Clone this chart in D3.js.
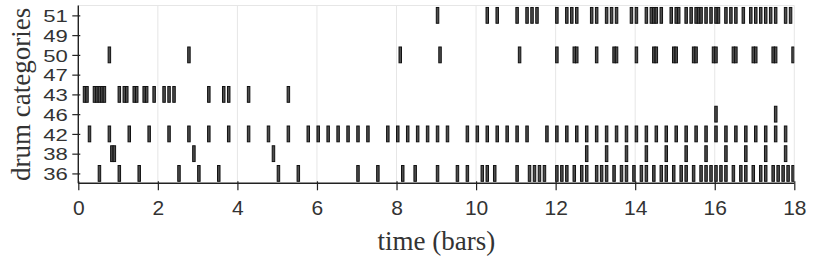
<!DOCTYPE html>
<html>
<head>
<meta charset="utf-8">
<script src="https://cdn.jsdelivr.net/npm/d3@7"></script>
<style>
  html, body { margin: 0; padding: 0; background: #fff; }
  svg { display: block; }
</style>
</head>
<body>
<svg id="chart" width="830" height="261"></svg>
<script>
// ---- data (onsets in bars) ----
const categories = ["36", "38", "42", "46", "43", "47", "50", "49", "51"];
const xTicks = [0, 2, 4, 6, 8, 10, 12, 14, 16, 18];
const noteLength = 0.0625;

const onsets36 = [0.5, 1.0, 1.5, 2.5, 3.0, 3.5, 5.0, 5.5, 7.0, 7.5, 8.125, 8.4375, 9.0, 9.5, 9.75,
  10.125, 10.25, 10.4375, 11.0, 11.3125, 11.4375, 11.5625, 11.6875, 12.0, 12.125, 12.25, 12.4375,
  12.625, 12.75, 13.0, 13.125, 13.25, 13.4375, 13.625, 13.75, 13.9375, 14.125, 14.25, 14.4375,
  14.625, 14.75, 14.9375, 15.125, 15.25, 15.4375, 15.625, 15.75, 15.875, 16.0, 16.125, 16.25,
  16.4375, 16.625, 16.75, 16.9375, 17.125, 17.25, 17.4375, 17.5625, 17.6875, 17.8125, 17.9375];
const onsets38 = [0.8125, 0.875, 2.875, 4.875, 12.75, 13.25, 13.75, 14.25, 14.75, 15.25, 15.75,
  16.25, 16.75, 17.25, 17.75];
const onsets42 = [0.25, 0.75, 1.25, 1.75, 2.25, 2.75, 3.25, 3.75, 4.25, 4.75, 5.25, 5.75, 6.0,
  6.25, 6.5, 6.75, 7.0, 7.25, 7.75, 8.0, 8.25, 8.5, 8.75, 9.0, 9.25, 9.75, 10.0, 10.25, 10.5,
  10.75, 11.0, 11.25, 11.75, 12.0, 12.25, 12.5, 12.75, 13.0, 13.25, 13.5, 13.75, 14.0, 14.25,
  14.5, 14.75, 15.0, 15.25, 15.5, 15.75, 16.0, 16.25, 16.5, 16.75, 17.0, 17.25, 17.5, 17.75];
const onsets46 = [16.0, 17.5];
const onsets43 = [0.125, 0.1875, 0.375, 0.4375, 0.5, 0.5625, 0.625, 1.0, 1.125, 1.1875, 1.375,
  1.4375, 1.625, 1.6875, 1.875, 2.125, 2.25, 2.375, 3.25, 3.625, 3.75, 4.25, 5.25];
const onsets47 = [];
const onsets50 = [0.75, 2.75, 8.0625, 9.0625, 11.0625, 12.0, 12.4375, 12.5, 13.0, 13.4375, 13.5,
  14.0, 14.4375, 14.5, 14.9375, 15.0, 15.4375, 15.5, 15.9375, 16.0, 16.4375, 16.5, 16.9375, 17.0,
  17.4375, 17.5, 17.9375];
const onsets49 = [];
const onsets51 = [9.0, 10.25, 10.5, 11.0, 11.25, 11.375, 11.5, 12.0, 12.25, 12.375, 12.5, 12.875,
  13.0, 13.25, 13.375, 13.5, 13.875, 14.0, 14.25, 14.375, 14.4375, 14.5, 14.625, 14.875, 15.0,
  15.0625, 15.25, 15.375, 15.5, 15.5625, 15.625, 15.75, 15.875, 16.0, 16.0625, 16.25, 16.375,
  16.5, 16.6875, 16.875, 17.0, 17.125, 17.25, 17.375, 17.5, 17.75, 17.875];

const rows = [
  ["36", onsets36], ["38", onsets38], ["42", onsets42], ["46", onsets46], ["43", onsets43],
  ["47", onsets47], ["50", onsets50], ["49", onsets49], ["51", onsets51]
];
const notes = [];
rows.forEach(([cat, arr]) => arr.forEach(t => notes.push({ cat, t })));

// ---- layout ----
const svg = d3.select("#chart");
const pLeft = 78.3, pRight = 794.3, pTop = 5.5, pBottom = 183.3;

const x = d3.scaleLinear().domain([0, 18]).range([pLeft, pRight]);
const y = d3.scalePoint().domain(categories).range([pBottom, pTop]).padding(0.5);
const noteH = y.step() * 0.8;

// grid + frame
svg.append("g").selectAll("line").data(xTicks).join("line")
  .attr("x1", d => x(d)).attr("x2", d => x(d))
  .attr("y1", pTop).attr("y2", pBottom)
  .attr("stroke", "#e6e6e6").attr("stroke-width", 1);
svg.append("line").attr("x1", pLeft).attr("x2", pRight).attr("y1", pTop).attr("y2", pTop)
  .attr("stroke", "#e6e6e6").attr("stroke-width", 1);

// clip
svg.append("clipPath").attr("id", "plotclip").append("rect")
  .attr("x", pLeft).attr("y", pTop).attr("width", pRight - pLeft).attr("height", pBottom - pTop);

// notes
svg.append("g").attr("clip-path", "url(#plotclip)")
  .selectAll("rect").data(notes).join("rect")
  .attr("x", d => x(d.t))
  .attr("width", d => x(d.t + noteLength) - x(d.t))
  .attr("y", d => y(d.cat) - noteH / 2)
  .attr("height", noteH)
  .attr("fill", "#4d4d4d")
  .attr("stroke", "#111")
  .attr("stroke-width", 1);

// axes
const xAxis = svg.append("g").attr("transform", `translate(0,${pBottom})`)
  .call(d3.axisBottom(x).tickValues(xTicks).tickSize(7).tickFormat(d3.format("d")));
const yAxis = svg.append("g").attr("transform", `translate(${pLeft},0)`)
  .call(d3.axisLeft(y).tickSize(6));

[xAxis, yAxis].forEach(g => {
  g.select(".domain").attr("stroke", "#222").attr("stroke-width", 1.4);
  g.selectAll(".tick line").attr("stroke", "#222").attr("stroke-width", 1.2);
  g.selectAll(".tick text")
    .attr("font-family", "'Liberation Sans', Arial, sans-serif")
    .attr("fill", "#333");
});
xAxis.select(".domain").attr("d", `M${pLeft},0H${pRight}`);
yAxis.select(".domain").attr("d", `M0,${pBottom}V${pTop}`);
xAxis.selectAll(".tick line").attr("y1", -2);
yAxis.selectAll(".tick line").attr("x1", 2);
xAxis.selectAll(".tick text").attr("font-size", 21).attr("y", 31.5).attr("dy", 0);
yAxis.selectAll(".tick text").attr("font-size", 17).attr("x", 0).attr("dy", "0.36em")
  .attr("transform", "translate(-10.5,0) scale(1.3,1)");

// axis titles
svg.append("text")
  .attr("x", (pLeft + pRight) / 2).attr("y", 250)
  .attr("text-anchor", "middle")
  .attr("font-family", "'Liberation Serif', 'Times New Roman', serif")
  .attr("font-size", 27).attr("fill", "#333")
  .text("time (bars)");
svg.append("text")
  .attr("transform", `translate(30,${(pTop + pBottom) / 2}) rotate(-90)`)
  .attr("text-anchor", "middle")
  .attr("font-family", "'Liberation Serif', 'Times New Roman', serif")
  .attr("font-size", 27).attr("fill", "#333")
  .text("drum categories");
</script>
</body>
</html>
